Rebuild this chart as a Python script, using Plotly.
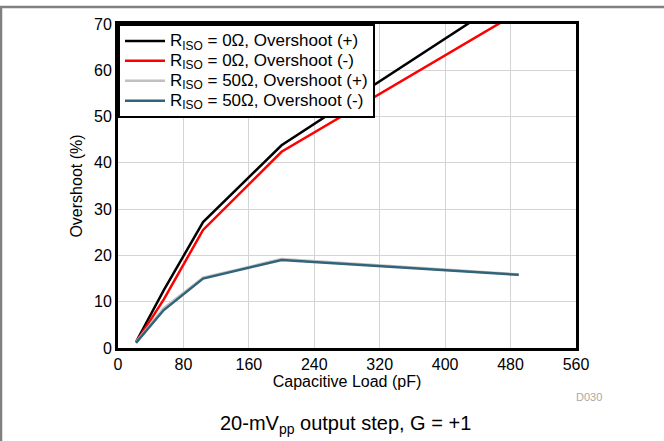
import plotly.graph_objects as go

cap_load = [22, 56, 104, 200, 490]
r0_pos = [1.3, 12.5, 27.2, 43.8, 77.2]
r0_neg = [1.2, 10.5, 25.5, 42.4, 72.6]
r50_pos = [1.3, 8.6, 15.2, 19.2, 15.9]
r50_neg = [1.1, 8.2, 15.0, 19.0, 15.8]

names = [
    "R<sub>ISO</sub> = 0Ω, Overshoot (+)",
    "R<sub>ISO</sub> = 0Ω, Overshoot (-)",
    "R<sub>ISO</sub> = 50Ω, Overshoot (+)",
    "R<sub>ISO</sub> = 50Ω, Overshoot (-)",
]
series = [r0_pos, r0_neg, r50_pos, r50_neg]
colors = ["#000000", "#ff0000", "#c0c0c0", "#31647a"]

x_ticks = [0, 80, 160, 240, 320, 400, 480, 560]
y_ticks = [0, 10, 20, 30, 40, 50, 60, 70]

fig = go.Figure()
for nm, ys, c in zip(names, series, colors):
    fig.add_trace(go.Scatter(
        x=cap_load, y=ys, mode="lines",
        name='<span style="font-size:17px">' + nm + "</span>",
        line=dict(color=c, width=2.5)))

W, H = 664, 441
L, R, T, B = 118, 576, 24, 348
pw, ph = R - L, B - T

def px(xp):
    return (xp - L) / pw

def py(yp):
    return (B - yp) / ph

font = "Liberation Sans, Arial, sans-serif"
fig.update_layout(
    width=W, height=H,
    margin=dict(l=L, r=W - R, t=T, b=H - B, pad=0),
    paper_bgcolor="white", plot_bgcolor="white",
    font=dict(family=font, size=16, color="#000000"),
    showlegend=True,
    legend=dict(x=0, y=1, xanchor="left", yanchor="top",
                bgcolor="white", bordercolor="black", borderwidth=2,
                font=dict(size=13, family=font), tracegroupgap=0,
                itemwidth=40),
    xaxis=dict(range=[0, 560], tickvals=x_ticks, showgrid=True,
               gridcolor="#d4d4d4", gridwidth=1, showline=True,
               linecolor="black", linewidth=3, mirror=True, ticks="",
               zeroline=False, tickfont=dict(size=16),
               title=dict(text="Capacitive Load (pF)", standoff=4,
                          font=dict(size=16))),
    yaxis=dict(range=[0, 70], tickvals=y_ticks, showgrid=True,
               gridcolor="#d4d4d4", gridwidth=1, showline=True,
               linecolor="black", linewidth=3, mirror=True, ticks="",
               zeroline=False, tickfont=dict(size=16),
               title=dict(text="Overshoot (%)", standoff=8,
                          font=dict(size=16))),
    shapes=[
        dict(type="line", xref="paper", yref="paper",
             x0=px(0), x1=px(W), y0=py(7), y1=py(7),
             line=dict(color="#808080", width=2.5)),
        dict(type="line", xref="paper", yref="paper",
             x0=px(1), x1=px(1), y0=py(H), y1=py(6),
             line=dict(color="#808080", width=2.5)),
    ],
    annotations=[
        dict(text="D030", xref="paper", yref="paper", x=px(604), y=py(397),
             xanchor="right", yanchor="middle", showarrow=False,
             font=dict(size=11, color="#a8a8a8", family=font)),
        dict(text="20-mV<sub>pp</sub> output step, G = +1", xref="paper",
             yref="paper", x=px(345), y=py(424), xanchor="center",
             yanchor="middle", showarrow=False,
             font=dict(size=20, color="#000000", family=font)),
    ],
)

frame_js = (
    "document.body.style.margin='0';"
    "var fr=document.createElement('div');"
    "fr.style.cssText='position:fixed;left:0;top:6px;width:100%;"
    "height:2px;background:#808080;z-index:9999;pointer-events:none;';"
    "document.body.appendChild(fr);"
)

fig.write_html("out.html",
               config={"displayModeBar": False},
               post_script=frame_js)
